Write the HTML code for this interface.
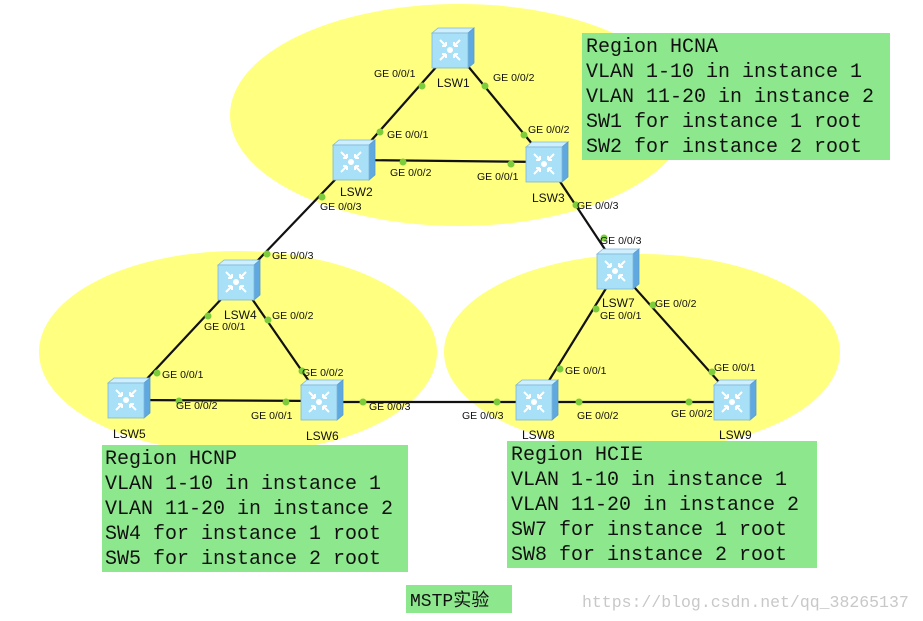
<!DOCTYPE html>
<html><head><meta charset="utf-8"><style>
body{margin:0;background:#fff}
svg{display:block}
.l{font-family:"Liberation Sans",sans-serif;font-size:10.5px;fill:#111}
.s{font-family:"Liberation Sans",sans-serif;font-size:12px;fill:#111}
.m{font-family:"Liberation Mono","Noto Sans CJK SC",monospace;font-size:20px;fill:#111}
</style></head><body>
<svg width="923" height="621" viewBox="0 0 923 621" xmlns="http://www.w3.org/2000/svg">
<defs>
<g id="sw">
<polygon points="0,5 6,0 42,0 36,5" fill="#cfefff" stroke="#7fb8d8" stroke-width="0.8"/>
<polygon points="36,5 42,0 42,35 36,40" fill="#5fa8e0" stroke="#5a9ccc" stroke-width="0.8"/>
<rect x="0" y="5" width="36" height="35" fill="#a8e0f8" stroke="#7fb8d8" stroke-width="0.8"/>
<circle cx="18" cy="22" r="3" fill="#fff"/>
<path d="M8,12 L14,18 M8,32 L14,26 M28,12 L22,18 M28,32 L22,26 M14,18 L10,18 M14,18 L14,14 M14,26 L10,26 M14,26 L14,30 M22,18 L26,18 M22,18 L22,14 M22,26 L26,26 M22,26 L22,30" stroke="#fff" stroke-width="2" fill="none"/>
</g>
</defs>
<ellipse cx="459" cy="115" rx="229" ry="111" fill="#ffff80"/>
<ellipse cx="238" cy="352" rx="199" ry="101" fill="#ffff80"/>
<ellipse cx="642" cy="352" rx="198" ry="98" fill="#ffff80"/>
<g stroke="#111" stroke-width="2.2">
<line x1="453" y1="48" x2="354" y2="160"/>
<line x1="453" y1="48" x2="547" y2="162"/>
<line x1="354" y1="160" x2="547" y2="162"/>
<line x1="354" y1="160" x2="239" y2="280"/>
<line x1="547" y1="162" x2="618" y2="269"/>
<line x1="239" y1="280" x2="129" y2="398"/>
<line x1="239" y1="280" x2="322" y2="400"/>
<line x1="129" y1="400" x2="322" y2="401"/>
<line x1="322" y1="402" x2="537" y2="402"/>
<line x1="618" y1="269" x2="537" y2="400"/>
<line x1="618" y1="269" x2="735" y2="400"/>
<line x1="537" y1="402" x2="735" y2="402"/>
</g>
<g fill="#7ccc3c">
<circle cx="422" cy="86" r="3.5"/><circle cx="485" cy="86" r="3.5"/>
<circle cx="380" cy="132" r="3.5"/><circle cx="524" cy="135" r="3.5"/>
<circle cx="403" cy="162" r="3.5"/><circle cx="511" cy="164" r="3.5"/>
<circle cx="322" cy="197" r="3.5"/><circle cx="576" cy="205" r="3.5"/>
<circle cx="267" cy="254" r="3.5"/><circle cx="604" cy="238" r="3.5"/>
<circle cx="208" cy="316" r="3.5"/><circle cx="268" cy="320" r="3.5"/>
<circle cx="157" cy="373" r="3.5"/><circle cx="302" cy="371" r="3.5"/>
<circle cx="179" cy="401" r="3.5"/><circle cx="286" cy="402" r="3.5"/>
<circle cx="363" cy="402" r="3.5"/><circle cx="497" cy="402" r="3.5"/>
<circle cx="596" cy="309" r="3.5"/><circle cx="653" cy="305" r="3.5"/>
<circle cx="560" cy="369" r="3.5"/><circle cx="712" cy="372" r="3.5"/>
<circle cx="579" cy="402" r="3.5"/><circle cx="689" cy="402" r="3.5"/>
</g>
<use href="#sw" x="432" y="28"/>
<use href="#sw" x="333" y="140"/>
<use href="#sw" x="526" y="142"/>
<use href="#sw" x="218" y="260"/>
<use href="#sw" x="108" y="378"/>
<use href="#sw" x="301" y="380"/>
<use href="#sw" x="597" y="249"/>
<use href="#sw" x="516" y="380"/>
<use href="#sw" x="714" y="380"/>
<g class="l">
<text x="374" y="77">GE 0/0/1</text><text x="493" y="81">GE 0/0/2</text>
<text x="387" y="138">GE 0/0/1</text><text x="528" y="133">GE 0/0/2</text>
<text x="390" y="176">GE 0/0/2</text><text x="477" y="180">GE 0/0/1</text>
<text x="320" y="210">GE 0/0/3</text><text x="577" y="209">GE 0/0/3</text>
<text x="600" y="244">GE 0/0/3</text>
<text x="272" y="259">GE 0/0/3</text><text x="204" y="330">GE 0/0/1</text>
<text x="272" y="319">GE 0/0/2</text><text x="162" y="378">GE 0/0/1</text>
<text x="176" y="409">GE 0/0/2</text><text x="251" y="419">GE 0/0/1</text>
<text x="302" y="376">GE 0/0/2</text><text x="369" y="410">GE 0/0/3</text>
<text x="462" y="419">GE 0/0/3</text>
<text x="600" y="319">GE 0/0/1</text><text x="655" y="307">GE 0/0/2</text>
<text x="565" y="374">GE 0/0/1</text><text x="714" y="371">GE 0/0/1</text>
<text x="577" y="419">GE 0/0/2</text><text x="671" y="417">GE 0/0/2</text>
</g>
<g class="s">
<text x="437" y="87">LSW1</text><text x="340" y="196">LSW2</text><text x="532" y="202">LSW3</text>
<text x="224" y="319">LSW4</text><text x="113" y="438">LSW5</text><text x="306" y="440">LSW6</text>
<text x="602" y="307">LSW7</text><text x="522" y="439">LSW8</text><text x="719" y="439">LSW9</text>
</g>
<rect x="582" y="33" width="308" height="127" fill="#8de88d"/>
<rect x="102" y="445" width="306" height="127" fill="#8de88d"/>
<rect x="507" y="441" width="310" height="127" fill="#8de88d"/>
<rect x="406" y="585" width="106" height="28" fill="#8de88d"/>
<g class="m">
<text x="586" y="52">Region HCNA</text>
<text x="586" y="77">VLAN 1-10 in instance 1</text>
<text x="586" y="102">VLAN 11-20 in instance 2</text>
<text x="586" y="127">SW1 for instance 1 root</text>
<text x="586" y="152">SW2 for instance 2 root</text>
<text x="105" y="464">Region HCNP</text>
<text x="105" y="489">VLAN 1-10 in instance 1</text>
<text x="105" y="514">VLAN 11-20 in instance 2</text>
<text x="105" y="539">SW4 for instance 1 root</text>
<text x="105" y="564">SW5 for instance 2 root</text>
<text x="511" y="460">Region HCIE</text>
<text x="511" y="485">VLAN 1-10 in instance 1</text>
<text x="511" y="510">VLAN 11-20 in instance 2</text>
<text x="511" y="535">SW7 for instance 1 root</text>
<text x="511" y="560">SW8 for instance 2 root</text>
<text x="410" y="606" style="font-size:18px">MSTP实验</text>
</g>
<text x="582" y="607" style="font-family:'Liberation Mono',monospace;font-size:16.5px;fill:#c8c8c8">https://blog.csdn.net/qq_38265137</text>
</svg>
</body></html>
